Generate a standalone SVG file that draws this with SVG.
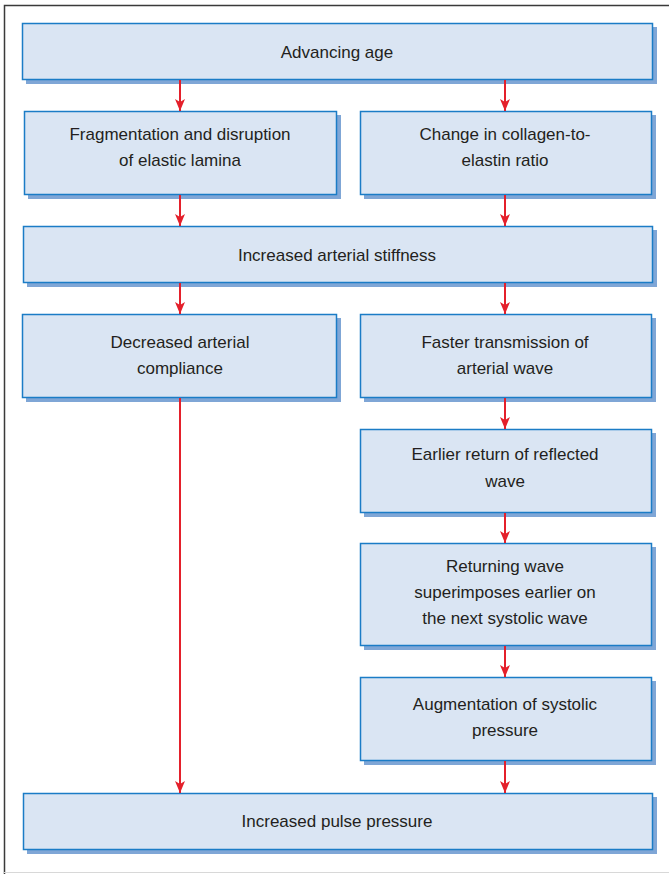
<svg xmlns="http://www.w3.org/2000/svg" width="669" height="874" viewBox="0 0 669 874">
  <defs>
    <!-- downward arrowhead, tip at the line end -->
    <marker id="arrow" markerWidth="10" markerHeight="12" refX="5" refY="12" markerUnits="userSpaceOnUse" viewBox="0 0 10 12">
      <path d="M0,0 L5,3 L10,0 L5,12 Z" fill="#e4202b"/>
    </marker>
  </defs>
  <style>
    .shadow { fill: #7fa6d6; }
    .box { fill: #dae5f3; stroke: #1b7cc6; stroke-width: 1.5; }
    .label { font-family: "Liberation Sans", Arial, sans-serif; font-size: 17px; fill: #231f20; text-anchor: middle; }
    .conn { stroke: #e4202b; stroke-width: 2; fill: none; marker-end: url(#arrow); }
  </style>

  <rect width="669" height="874" fill="#ffffff"/>
  <!-- outer frame -->
  <path d="M4.5,874 V5.5 H669" fill="none" stroke="#3a3a3a" stroke-width="1.5"/>
  <line x1="4" y1="872.5" x2="669" y2="872.5" stroke="#d8d8d8" stroke-width="1"/>

  <g id="advancing-age">
    <rect class="shadow" x="26" y="27" width="631" height="57"/>
    <rect class="box" x="22.5" y="23.5" width="630" height="56"/>
    <text class="label" x="337" y="58">Advancing age</text>
  </g>

  <g id="fragmentation">
    <rect class="shadow" x="28" y="115" width="313" height="84"/>
    <rect class="box" x="24.5" y="111.5" width="312" height="83"/>
    <text class="label" x="180" y="140">Fragmentation and disruption</text>
    <text class="label" x="180" y="166">of elastic lamina</text>
  </g>

  <g id="collagen-ratio">
    <rect class="shadow" x="364" y="115" width="292" height="84"/>
    <rect class="box" x="360.5" y="111.5" width="291" height="83"/>
    <text class="label" x="505" y="140">Change in collagen-to-</text>
    <text class="label" x="505" y="166">elastin ratio</text>
  </g>

  <g id="arterial-stiffness">
    <rect class="shadow" x="27" y="230" width="630" height="57"/>
    <rect class="box" x="23.5" y="226.5" width="629" height="56"/>
    <text class="label" x="337" y="261">Increased arterial stiffness</text>
  </g>

  <g id="decreased-compliance">
    <rect class="shadow" x="26" y="318" width="315" height="84"/>
    <rect class="box" x="22.5" y="314.5" width="314" height="83"/>
    <text class="label" x="180" y="348">Decreased arterial</text>
    <text class="label" x="180" y="374">compliance</text>
  </g>

  <g id="faster-transmission">
    <rect class="shadow" x="364" y="318" width="292" height="84"/>
    <rect class="box" x="360.5" y="314.5" width="291" height="83"/>
    <text class="label" x="505" y="348">Faster transmission of</text>
    <text class="label" x="505" y="374">arterial wave</text>
  </g>

  <g id="earlier-return">
    <rect class="shadow" x="364" y="433" width="292" height="84"/>
    <rect class="box" x="360.5" y="429.5" width="291" height="83"/>
    <text class="label" x="505" y="460">Earlier return of reflected</text>
    <text class="label" x="505" y="487">wave</text>
  </g>

  <g id="returning-wave">
    <rect class="shadow" x="364" y="547" width="292" height="103"/>
    <rect class="box" x="360.5" y="543.5" width="291" height="102"/>
    <text class="label" x="505" y="572">Returning wave</text>
    <text class="label" x="505" y="598">superimposes earlier on</text>
    <text class="label" x="505" y="624">the next systolic wave</text>
  </g>

  <g id="systolic-augmentation">
    <rect class="shadow" x="364" y="681" width="292" height="84"/>
    <rect class="box" x="360.5" y="677.5" width="291" height="83"/>
    <text class="label" x="505" y="710">Augmentation of systolic</text>
    <text class="label" x="505" y="736">pressure</text>
  </g>

  <g id="pulse-pressure">
    <rect class="shadow" x="27" y="797" width="630" height="57"/>
    <rect class="box" x="23.5" y="793.5" width="629" height="56"/>
    <text class="label" x="337" y="827">Increased pulse pressure</text>
  </g>

  <g id="connectors">
    <line class="conn" x1="180" y1="80" x2="180" y2="111"/>
    <line class="conn" x1="505" y1="80" x2="505" y2="111"/>
    <line class="conn" x1="180" y1="195" x2="180" y2="226"/>
    <line class="conn" x1="505" y1="195" x2="505" y2="226"/>
    <line class="conn" x1="180" y1="283" x2="180" y2="314"/>
    <line class="conn" x1="505" y1="283" x2="505" y2="314"/>
    <line class="conn" x1="505" y1="398" x2="505" y2="429"/>
    <line class="conn" x1="505" y1="513" x2="505" y2="543"/>
    <line class="conn" x1="505" y1="646" x2="505" y2="677"/>
    <line class="conn" x1="180" y1="398" x2="180" y2="793"/>
    <line class="conn" x1="505" y1="761" x2="505" y2="793"/>
  </g>
</svg>
